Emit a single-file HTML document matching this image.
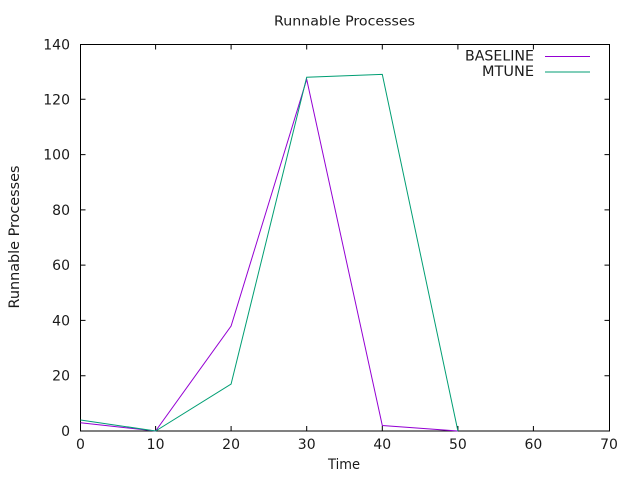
<!DOCTYPE html>
<html><head><meta charset="utf-8"><style>
html,body{margin:0;padding:0;background:#fff;}
svg{display:block;}
text{font-family:"DejaVu Sans","Liberation Sans",sans-serif;fill:#1a1a1a;}
</style></head><body>
<svg width="640" height="480" viewBox="0 0 640 480" xmlns="http://www.w3.org/2000/svg">
<rect width="640" height="480" fill="#fff"/>
<g stroke="#000" stroke-width="1" fill="none">
<rect x="80.5" y="44.5" width="529" height="386.5"/>
<!-- y ticks -->
<path d="M80.5 431h5M609.5 431h-5
M80.5 375.7h5M609.5 375.7h-5
M80.5 320.4h5M609.5 320.4h-5
M80.5 265.1h5M609.5 265.1h-5
M80.5 209.9h5M609.5 209.9h-5
M80.5 154.6h5M609.5 154.6h-5
M80.5 99.3h5M609.5 99.3h-5
M80.5 44.5h5M609.5 44.5h-5"/>
<!-- x ticks -->
<path d="M155.6 431v-5M155.6 44.5v5
M231.1 431v-5M231.1 44.5v5
M306.7 431v-5M306.7 44.5v5
M382.3 431v-5M382.3 44.5v5
M457.9 431v-5M457.9 44.5v5
M533.4 431v-5M533.4 44.5v5"/>
</g>
<g font-size="14" text-anchor="end">
<text x="70" y="436">0</text>
<text x="70" y="380.7">20</text>
<text x="70" y="325.4">40</text>
<text x="70" y="270.1">60</text>
<text x="70" y="214.9">80</text>
<text x="70" y="159.6">100</text>
<text x="70" y="104.3">120</text>
<text x="70" y="49.5">140</text>
</g>
<g font-size="14" text-anchor="middle">
<text x="80.5" y="449">0</text>
<text x="155.6" y="449">10</text>
<text x="231.1" y="449">20</text>
<text x="306.7" y="449">30</text>
<text x="382.3" y="449">40</text>
<text x="457.9" y="449">50</text>
<text x="533.4" y="449">60</text>
<text x="609" y="449">70</text>
</g>
<text x="344.5" y="25.5" font-size="13.5" text-anchor="middle" textLength="141" lengthAdjust="spacingAndGlyphs">Runnable Processes</text>
<text x="344" y="469" font-size="14" text-anchor="middle" textLength="32" lengthAdjust="spacingAndGlyphs">Time</text>
<text transform="translate(19,237) rotate(-90)" font-size="14" text-anchor="middle" textLength="143" lengthAdjust="spacingAndGlyphs">Runnable Processes</text>
<!-- legend -->
<text x="534" y="60.5" font-size="14" text-anchor="end" textLength="69" lengthAdjust="spacingAndGlyphs">BASELINE</text>
<text x="534" y="76" font-size="14" text-anchor="end" textLength="52" lengthAdjust="spacingAndGlyphs">MTUNE</text>
<line x1="545" y1="56.5" x2="590" y2="56.5" stroke="#9400d3" stroke-width="1"/>
<line x1="545" y1="72" x2="590" y2="72" stroke="#009e73" stroke-width="1"/>
<!-- series -->
<polyline fill="none" stroke="#9400d3" stroke-width="1" points="80.5,422.7 155.6,431 231.1,326 306.7,79.4 382.3,425.5 457.9,431"/>
<polyline fill="none" stroke="#009e73" stroke-width="1" points="80.5,420 155.6,431 231.1,384 306.7,77.2 382.3,74.4 457.9,431"/>
</svg>
</body></html>
